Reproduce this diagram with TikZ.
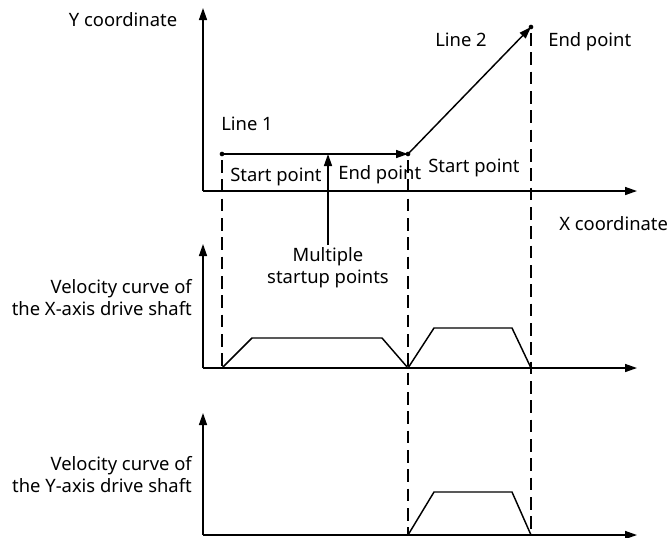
\documentclass[tikz,border=0pt]{standalone}
\usepackage{fontspec}
\setmainfont{Noto Sans}
\usetikzlibrary{arrows.meta}
\begin{document}
\begin{tikzpicture}[x=0.75pt,y=-0.75pt,
  ax/.style={line width=1.1pt,-{Triangle[length=9pt,width=6pt]}},
  curve/.style={line width=1.1pt,line join=miter},
  guide/.style={line width=0.9pt,dash pattern=on 9.5pt off 5pt},
  lbl/.style={font=\fontsize{13.8pt}{16.5pt}\selectfont,inner sep=0pt},
  dot/.style={circle,fill=black,inner sep=0pt,minimum size=3.5pt}]
\useasboundingbox (0,0) rectangle (670,537);
% top axes
\coordinate (O1) at (203,191);
\coordinate (Y1) at (203,8);
\coordinate (X1) at (637,191);
\draw[ax] (O1) -- (Y1);
\draw[ax] (O1) -- (X1);
% points
\node[dot] (S1) at (222,154) {};
\node[dot] (E1) at (408,154) {};
\node[dot] (E2) at (531,27) {};
\draw[ax] (S1.center) -- (E1.center);
\draw[ax] (E1.center) -- (E2.center);
% velocity X axes
\coordinate (O2) at (203,368);
\coordinate (Y2) at (203,244);
\coordinate (X2) at (637,368);
\draw[ax] (O2) -- (Y2);
\draw[ax] (O2) -- (X2);
% velocity Y axes
\coordinate (O3) at (203,535);
\coordinate (Y3) at (203,413);
\coordinate (X3) at (637,535);
\draw[ax] (O3) -- (Y3);
\draw[ax] (O3) -- (X3);
% guides
\coordinate (G1) at (222,368);
\coordinate (G2) at (408,535);
\coordinate (G3) at (531,535);
\draw[guide] (222,160) -- (G1);
\draw[guide] (408,160) -- (G2);
\draw[guide] (531,33) -- (G3);
% curves
\draw[curve] (222,368) -- (252,338) -- (382,338) -- (408,368) -- (434,328) -- (512,328) -- (531,368);
\draw[curve] (408,535) -- (434,492) -- (512,492) -- (531,535);
% multiple startup arrow
\coordinate (M0) at (328,245);
\coordinate (M1) at (328,154);
\draw[ax] (M0) -- (M1);
% labels
\node[lbl] (ly) at (123,20) {Y coordinate};
\node[lbl,anchor=west] (l1) at (221,124) {Line 1};
\node[lbl,anchor=west] (sp1) at (230,177) {Start point};
\node[lbl,anchor=west] (ep1) at (338,175) {End point};
\node[lbl,anchor=west] (sp2) at (428,168) {Start point};
\node[lbl,anchor=west] (l2) at (435,40) {Line 2};
\node[lbl,anchor=west] (ep2) at (548,42) {End point};
\node[lbl,anchor=west] (lx) at (559,224) {X coordinate};
\node[lbl,align=center] (mp) at (328,268) {Multiple\\startup points};
\node[lbl,align=right,anchor=east] (vx) at (192,298) {Velocity curve of\\the X-axis drive shaft};
\node[lbl,align=right,anchor=east] (vy) at (192,475) {Velocity curve of\\the Y-axis drive shaft};
\end{tikzpicture}
\end{document}
